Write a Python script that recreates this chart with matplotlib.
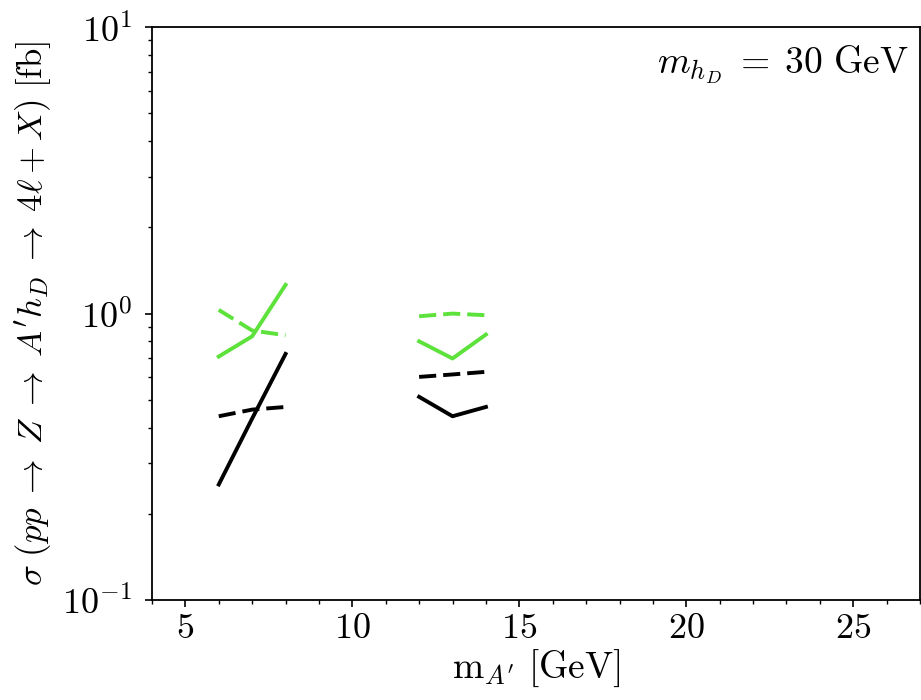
import numpy as np
import matplotlib
matplotlib.use("Agg")
import matplotlib.pyplot as plt

plt.rcParams.update({
    'font.family': 'serif',
    'font.serif': ['cmr10', 'DejaVu Serif'],
    'mathtext.fontset': 'cm',
    'axes.formatter.use_mathtext': True,
    'axes.unicode_minus': False,
})

# Data: two mass windows
x_low = [6, 7, 8]
x_high = [12, 13, 14]

black_solid_low = [0.253, 0.43, 0.723]
black_dashed_low = [0.438, 0.462, 0.472]
green_solid_low = [0.708, 0.833, 1.26]
green_dashed_low = [1.03, 0.873, 0.84]

black_solid_high = [0.512, 0.438, 0.472]
black_dashed_high = [0.601, 0.613, 0.626]
green_solid_high = [0.80, 0.697, 0.845]
green_dashed_high = [0.979, 1.0, 0.987]

green = '#5de23b'
lw = 2.8

fig = plt.figure(figsize=(9.21, 7.0), dpi=100)
ax = fig.add_axes([0.165, 0.143, 0.834, 0.818])

for xs, ys, c, ls in [
    (x_low, black_solid_low, 'black', '-'),
    (x_low, black_dashed_low, 'black', '--'),
    (x_low, green_solid_low, green, '-'),
    (x_low, green_dashed_low, green, '--'),
    (x_high, black_solid_high, 'black', '-'),
    (x_high, black_dashed_high, 'black', '--'),
    (x_high, green_solid_high, green, '-'),
    (x_high, green_dashed_high, green, '--'),
]:
    line, = ax.plot(xs, ys, color=c, ls=ls, lw=lw)
    if ls == '--':
        line.set_dashes((4.4, 1.8))

ax.set_yscale('log')
ax.set_ylim(0.1, 10)
ax.set_xlim(4, 27)
ax.set_xticks([5, 10, 15, 20, 25])
ax.set_xticks(np.arange(4, 28, 1), minor=True)
ax.tick_params(axis='both', which='major', labelsize=26, length=5, width=1.2, direction='out')
ax.tick_params(axis='both', which='minor', length=3, width=1.0, direction='out')
ax.tick_params(axis='x', which='major', pad=5)
ax.tick_params(axis='y', which='major', pad=9)
ax.tick_params(top=False, right=False, which='both')
for s in ax.spines.values():
    s.set_linewidth(1.3)

ax.set_xlabel(r'$\mathrm{m}_{A^{\prime}}\ [\mathrm{GeV}]$', fontsize=27, labelpad=2)
ax.set_ylabel(r'$\sigma\ (pp \;\rightarrow\; Z \;\rightarrow\; A^{\prime}h_D \;\rightarrow\; 4\ell + X)\ [\mathrm{fb}]$',
              fontsize=25, labelpad=6)
ax.text(0.985, 0.935, r'$m_{h_D}\;=\;30\ \mathrm{GeV}$', transform=ax.transAxes,
        ha='right', va='center', fontsize=27)

fig.savefig('out.png', dpi=100)
